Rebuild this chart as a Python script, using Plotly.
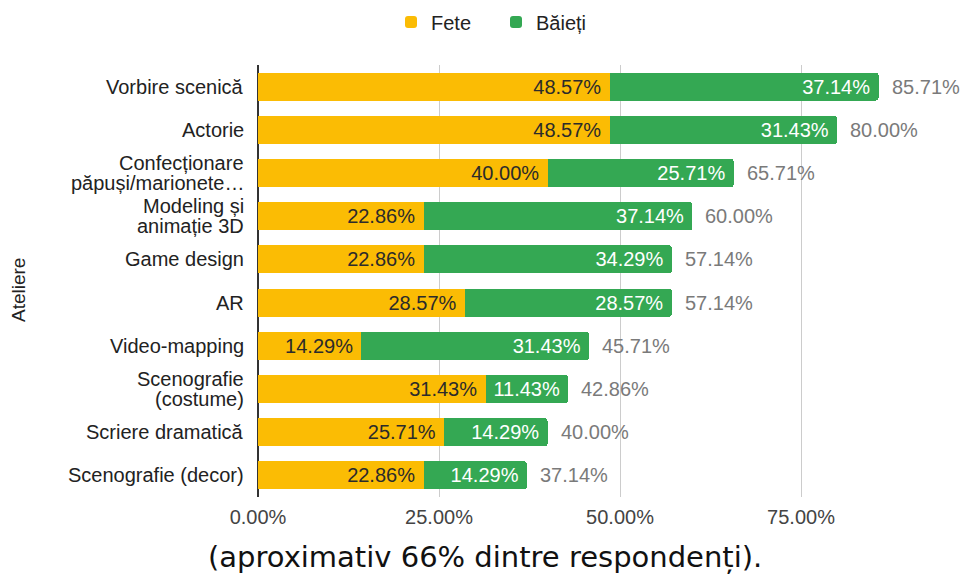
import plotly.graph_objects as go

categories = ["Vorbire scenică", "Actorie", "Confecționare<br>păpuși/marionete…",
              "Modeling și<br>animație 3D", "Game design", "AR", "Video-mapping",
              "Scenografie<br>(costume)", "Scriere dramatică", "Scenografie (decor)"]
fete = [48.57, 48.57, 40.00, 22.86, 22.86, 28.57, 14.29, 31.43, 25.71, 22.86]
baieti = [37.14, 31.43, 25.71, 37.14, 34.29, 28.57, 31.43, 11.43, 14.29, 14.29]
totals = [85.71, 80.00, 65.71, 60.00, 57.14, 57.14, 45.71, 42.86, 40.00, 37.14]
tick_vals = [0, 0.25, 0.50, 0.75]
tick_text = ["0.00%", "25.00%", "50.00%", "75.00%"]

FONT = "Liberation Sans, Arial, sans-serif"
FS = 20
NB = "\u00a0"

# figure-space layout (page body adds an 8px offset)
W, H = 970, 577
L, T, R, B = 250, 57, 942, 489
PW, PH = R - L, B - T

fig = go.Figure()
fig.add_trace(go.Bar(
    name="Fete", y=categories, x=[v / 100 for v in fete], orientation="h",
    marker=dict(color="#FBBC04", line=dict(width=0)),
    text=[f"{v:.2f}%{NB}" for v in fete], textposition="inside",
    insidetextanchor="end", textangle=0, constraintext="none",
    textfont=dict(color="#2b2b2b", size=FS, family=FONT),
))
fig.add_trace(go.Bar(
    name="Băieți", y=categories, x=[v / 100 for v in baieti], orientation="h",
    marker=dict(color="#34A853", line=dict(width=0)),
    text=[f"{v:.2f}%{NB}" for v in baieti], textposition="inside",
    insidetextanchor="end", textangle=0, constraintext="none",
    textfont=dict(color="#ffffff", size=FS, family=FONT),
))

for c, t in zip(categories, totals):
    fig.add_annotation(x=t / 100, y=c, xref="x", yref="y", text=f"{t:.2f}%",
                       showarrow=False, xanchor="left", xshift=11,
                       font=dict(color="#7a7a7a", size=FS, family=FONT))

# category labels, drawn line by line for tight line spacing
for c in categories:
    lines = c.split("<br>")
    n = len(lines)
    for i, line in enumerate(lines):
        fig.add_annotation(x=0, y=c, xref="paper", yref="y", text=line,
                           showarrow=False, xanchor="right", yanchor="middle",
                           xshift=-12, yshift=((n - 1) / 2 - i) * 20,
                           font=dict(color="#222222", size=FS, family=FONT))

fig.add_annotation(x=(477 - L) / PW, y=-60 / PH, xref="paper", yref="paper",
                   yanchor="middle", xanchor="center",
                   text="(aproximativ 66% dintre respondenți).", showarrow=False,
                   font=dict(family="DejaVu Sans", size=29, color="#111111"))

fig.add_annotation(x=(10 - L) / PW, y=1 - (282 - T) / PH, xref="paper", yref="paper",
                   xanchor="center", yanchor="middle", textangle=-90,
                   text="Ateliere", showarrow=False,
                   font=dict(family=FONT, size=19, color="#222222"))

fig.update_layout(
    width=W, height=H,
    margin=dict(l=L, r=W - R, t=T, b=H - B, autoexpand=False),
    barmode="stack", bargap=0.35, barcornerradius=3,
    plot_bgcolor="white", paper_bgcolor="white",
    font=dict(family=FONT, size=FS, color="#222222"),
    legend=dict(orientation="h", x=(383 - L) / PW, xanchor="left",
                y=1 - 14 / H, yanchor="middle", yref="container",
                entrywidth=60, entrywidthmode="pixels",
                font=dict(size=FS, color="#222222"), traceorder="normal"),
    showlegend=True,
    xaxis=dict(range=[0, PW / 724], tickvals=tick_vals,
               ticktext=tick_text, showgrid=True, gridcolor="#cccccc", gridwidth=1,
               zeroline=True, zerolinecolor="#333333", zerolinewidth=2,
               tickfont=dict(size=FS, color="#444444"), ticks="",
               ticklabelstandoff=6),
    yaxis=dict(autorange="reversed", showticklabels=False, ticks=""),
)

fig.write_html("out.html")
